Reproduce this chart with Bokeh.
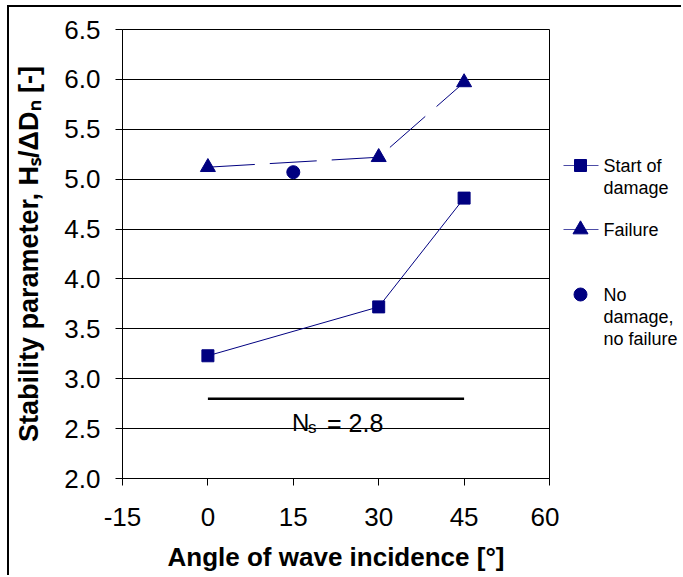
from bokeh.plotting import figure
from bokeh.models import Range1d, FixedTicker, NumeralTickFormatter, Spacer
from bokeh.layouts import row, column
from bokeh.embed import file_html
from bokeh.resources import INLINE
from bokeh.core.properties import value

# ---- data ----
damage_angles = [0, 30, 45]
start_of_damage = [3.23, 3.72, 4.81]
failure_angles = [0, 30, 45]
failure = [5.12, 5.22, 5.97]
no_damage_angles = [15]
no_damage = [5.07]
ns_angles = [0, 45]
ns_value = 2.8
x_ticks = [-15, 0, 15, 30, 45, 60]
y_ticks = [2.0, 2.5, 3.0, 3.5, 4.0, 4.5, 5.0, 5.5, 6.0, 6.5]

NAVY = "#000080"
FONT = "Liberation Sans"

H = 568
W1 = 550
TOP = 22
FRAME_H = 449
p = figure(width=W1, height=H, x_range=Range1d(-15, 60), y_range=Range1d(2.0, 6.5),
           output_backend="svg", toolbar_location=None,
           min_border_left=113, min_border_right=W1 - 113 - 427, min_border_top=TOP,
           min_border_bottom=H - TOP - FRAME_H)
p.background_fill_color = "white"
p.border_fill_color = "white"
p.outline_line_color = "black"
p.outline_line_width = 1

p.xaxis.ticker = FixedTicker(ticks=x_ticks)
p.xaxis.formatter = NumeralTickFormatter(format="0")
p.yaxis.ticker = FixedTicker(ticks=y_ticks)
p.yaxis.formatter = NumeralTickFormatter(format="0.0")
for ax in (p.xaxis, p.yaxis):
    ax.axis_line_color = "black"
    ax.major_tick_line_color = "black"
    ax.major_tick_out = 7
    ax.major_tick_in = 0
    ax.minor_tick_line_color = None
    ax.major_label_text_font = FONT
    ax.major_label_text_font_size = "26px"
    ax.major_label_text_color = "black"
    ax.axis_label_text_font = FONT
    ax.axis_label_text_font_style = "bold"
    ax.axis_label_text_color = "black"
p.xaxis.axis_label_text_font_size = "26px"
p.yaxis.axis_label_text_font_size = "27px"
p.xaxis.major_label_standoff = 22
p.yaxis.major_label_standoff = 15
p.xaxis.axis_label = "Angle of wave incidence [°]"
p.yaxis.axis_label = "Stability parameter, Hₛ/ΔDₙ [-]"
p.xaxis.axis_label_standoff = 13
p.yaxis.axis_label_standoff = 17

p.xgrid.grid_line_color = None
p.ygrid.grid_line_color = "black"
p.ygrid.grid_line_alpha = 1.0
p.ygrid.grid_line_width = 1

# series
p.line(damage_angles, start_of_damage, line_color=NAVY, line_width=1)
p.scatter(damage_angles, start_of_damage, marker="square", size=12, fill_color=NAVY, line_color=NAVY)
p.line(failure_angles, failure, line_color=NAVY, line_width=1, line_dash="47 15")
p.scatter(failure_angles, failure, marker="triangle", size=15, fill_color=NAVY, line_color=NAVY)
p.scatter(no_damage_angles, no_damage, marker="circle", size=13, fill_color=NAVY, line_color=NAVY)

# Ns line and label
p.line(ns_angles, [ns_value, ns_value], line_color="black", line_width=2.5)
ns_mid = sum(ns_angles) / 2
p.text(x=[ns_mid], y=[ns_value], text=["N"], x_offset=-44, y_offset=24,
       text_font=value(FONT), text_font_size="24px", text_baseline="alphabetic", text_align="left", text_color="black")
p.text(x=[ns_mid], y=[ns_value], text=["s"], x_offset=-28, y_offset=29,
       text_font=value(FONT), text_font_size="17px", text_baseline="alphabetic", text_align="left", text_color="black")
p.text(x=[ns_mid], y=[ns_value], text=["= 2.8"], x_offset=-9, y_offset=24,
       text_font=value(FONT), text_font_size="25px", text_baseline="alphabetic", text_align="left", text_color="black")

# legend panel (local pixel coordinates; frame aligned with the main plot frame)
LW = 122
lg = figure(width=LW, height=H, x_range=Range1d(0, LW), y_range=Range1d(TOP + FRAME_H, TOP),
            output_backend="svg", toolbar_location=None,
            x_axis_location=None, y_axis_location=None,
            min_border_left=0, min_border_right=0, min_border_top=TOP,
            min_border_bottom=H - TOP - FRAME_H)
lg.grid.visible = False
lg.outline_line_color = None
lg.background_fill_color = "white"
lg.border_fill_color = "white"

legend_lines = [["Start of", "damage"], ["Failure"], ["No", "damage,", "no failure"]]
legend_markers = ["square", "triangle", "circle"]
legend_sizes = [12, 15, 13]
legend_has_line = [True, True, False]
legend_y = [158, 222, 287]
for lines, mk, sz, hl, yy in zip(legend_lines, legend_markers, legend_sizes, legend_has_line, legend_y):
    if hl:
        lg.line([4, 39], [yy, yy], line_color=NAVY, line_width=1, line_alpha=0.7)
    lg.scatter([21], [yy], marker=mk, size=sz, fill_color=NAVY, line_color=NAVY)
    lg.text(x=[44] * len(lines), y=[yy + 22 * i for i in range(len(lines))], text=lines,
            text_font=value(FONT), text_font_size="18px", text_baseline="middle",
            text_align="left", text_color="black")

top_gap = Spacer(width=7 + 2 + W1 + LW, height=5)
top_bar = row(Spacer(width=7, height=2),
              Spacer(width=2 + W1 + LW, height=2, styles={"background-color": "black"}))
left_gap = Spacer(width=7, height=H)
left_bar = Spacer(width=2, height=H, styles={"background-color": "black"})
layout = column(top_gap, top_bar, row(left_gap, left_bar, p, lg))

open("out.html", "w").write(file_html(layout, INLINE))
